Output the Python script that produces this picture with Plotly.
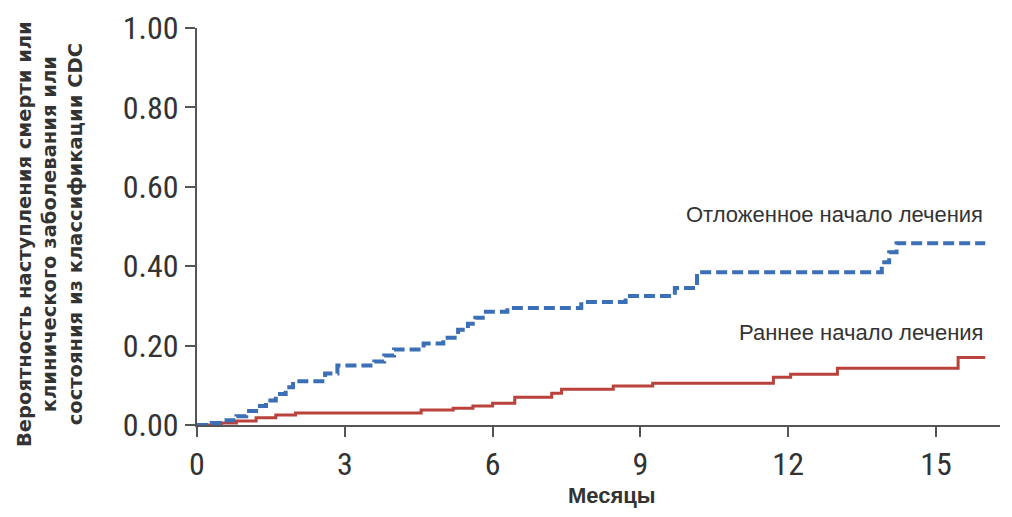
import plotly.graph_objects as go

# Delayed treatment (blue, dashed)
delayed_t = [0, 0.3, 0.6, 0.8, 1.0, 1.2, 1.4, 1.6, 1.8, 1.95, 2.6, 2.85, 3.6, 3.8, 4.0, 4.6, 5.0, 5.3, 5.5, 5.65, 5.8, 6.3, 7.8, 8.7, 9.7, 10.15, 13.9, 14.05, 14.2, 16.0]
delayed_v = [0, 0.005, 0.012, 0.022, 0.035, 0.048, 0.062, 0.078, 0.095, 0.11, 0.13, 0.15, 0.16, 0.175, 0.19, 0.205, 0.22, 0.24, 0.255, 0.27, 0.285, 0.295, 0.31, 0.325, 0.345, 0.385, 0.41, 0.435, 0.458, 0.458]

# Early treatment (red, solid)
early_t = [0, 0.5, 0.8, 1.2, 1.6, 2.0, 4.55, 5.2, 5.6, 6.0, 6.45, 7.2, 7.4, 8.45, 9.25, 11.7, 12.05, 13.0, 15.45, 16.0]
early_v = [0, 0.005, 0.01, 0.018, 0.025, 0.03, 0.038, 0.042, 0.048, 0.055, 0.07, 0.08, 0.09, 0.098, 0.105, 0.12, 0.128, 0.143, 0.17, 0.17]

x_ticks = [0, 3, 6, 9, 12, 15]
y_ticks = [0, 0.2, 0.4, 0.6, 0.8, 1.0]
y_tick_labels = ["0.00", "0.20", "0.40", "0.60", "0.80", "1.00"]

label_delayed = "Отложенное начало лечения"
label_early = "Раннее начало лечения"
x_title = "Месяцы"
y_title = "Вероятность наступления смерти или<br>клинического заболевания или<br>состояния из классификации CDC"

tick_font = dict(family="Liberation Sans Narrow, Roboto Condensed, Liberation Sans", size=32, color="#333")

fig = go.Figure()
fig.add_trace(go.Scatter(x=early_t, y=early_v, mode="lines", line_shape="hv",
                         line=dict(color="#b9423d", width=3), showlegend=False))
fig.add_trace(go.Scatter(x=delayed_t, y=delayed_v, mode="lines", line_shape="hv",
                         line=dict(color="#3b6fb6", width=4, dash="11px,5px"), showlegend=False))

fig.add_annotation(x=16.0, y=0.531, xref="x", yref="y", text=label_delayed, showarrow=False,
                   xanchor="right", yanchor="middle", font=dict(family="Liberation Sans", size=22, color="#333"))
fig.add_annotation(x=16.0, y=0.232, xref="x", yref="y", text=label_early, showarrow=False,
                   xanchor="right", yanchor="middle", font=dict(family="Liberation Sans", size=22, color="#333"))
fig.add_annotation(x=0, y=0.481, xref="paper", yref="paper", xshift=-147, text="<b>" + y_title + "</b>",
                   showarrow=False, textangle=-90, xanchor="center", yanchor="middle", align="center",
                   font=dict(family="DejaVu Sans", size=19.5, color="#333"))
fig.add_annotation(x=0.5, y=0, xref="paper", yref="paper", xshift=13, yshift=-70, text="<b>" + x_title + "</b>",
                   showarrow=False, xanchor="center", yanchor="middle",
                   font=dict(family="Liberation Sans", size=22, color="#333"))

fig.update_layout(
    width=1004, height=509,
    margin=dict(l=189, r=12, t=20, b=92),
    paper_bgcolor="white", plot_bgcolor="white",
    font=dict(family="Liberation Sans", color="#333"),
)
fig.update_xaxes(range=[0, 16.3], tickvals=x_ticks, ticks="outside", ticklen=10, tickwidth=2,
                 tickcolor="#555", showline=True, linecolor="#555", linewidth=2, showgrid=False,
                 zeroline=False, tickfont=tick_font, automargin=False)
fig.update_yaxes(range=[0, 1.0], tickvals=y_ticks, ticktext=y_tick_labels, ticks="outside", ticklen=10,
                 tickwidth=2, tickcolor="#555", showline=True, linecolor="#555", linewidth=2, showgrid=False,
                 zeroline=False, tickfont=tick_font, automargin=False)

fig.write_html("out.html")
